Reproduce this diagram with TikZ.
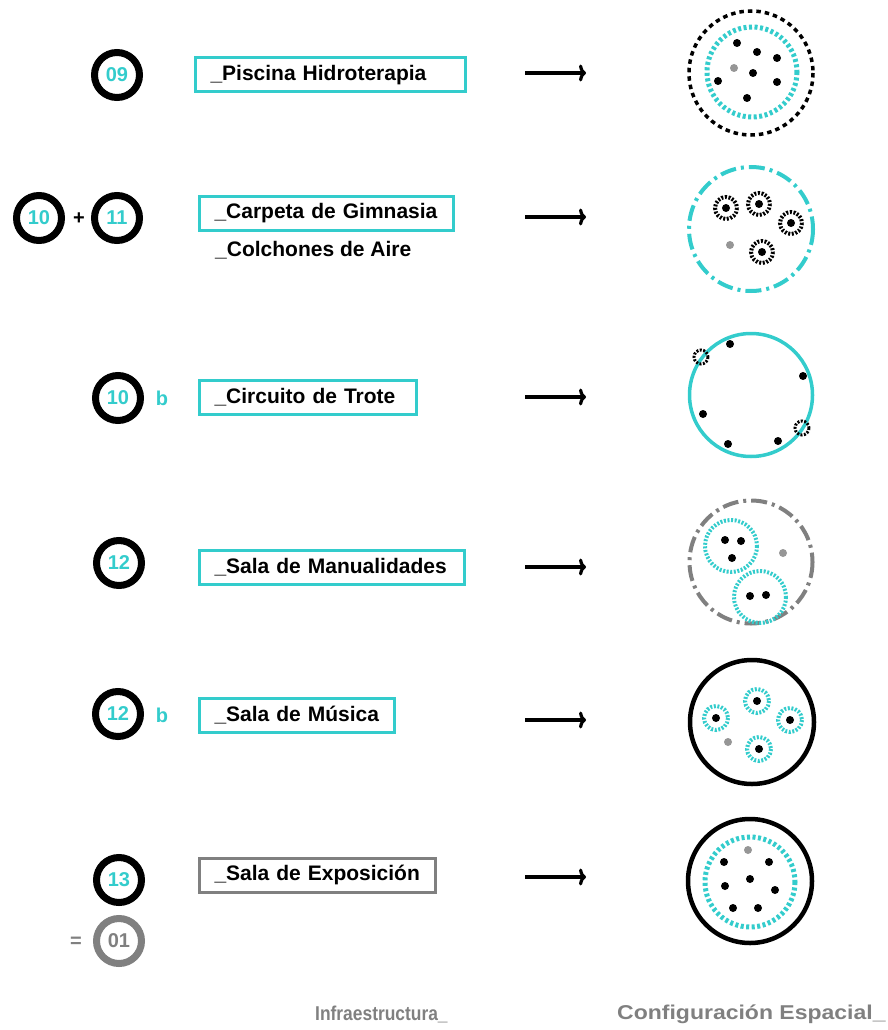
\documentclass[tikz,border=0pt]{standalone}
\usepackage{fontspec}
\setmainfont{Liberation Sans}
\usetikzlibrary{arrows.meta}
\definecolor{cy}{RGB}{51,204,204}
\definecolor{gr}{RGB}{128,128,128}
\definecolor{dotgr}{RGB}{150,150,150}
\begin{document}
\begin{tikzpicture}[x=1pt,y=-1pt,
  numring/.style={circle, draw=black, line width=7pt, minimum size=45pt, inner sep=0pt, text=cy, font=\bfseries\fontsize{20}{20}\selectfont},
  labbox/.style={draw=cy, line width=3pt, anchor=west, minimum height=34pt, inner xsep=15pt, inner ysep=0pt, font=\bfseries\fontsize{21}{24}\selectfont, align=left},
  plain/.style={anchor=west, inner sep=0pt, font=\bfseries\fontsize{21}{24}\selectfont},
  sym/.style={inner sep=0pt, font=\bfseries\fontsize{20}{20}\selectfont},
  arr/.style={line width=3.2pt, -{To[length=7pt,width=17pt]}},
  bigdash/.style={line width=3.5pt, dash pattern=on 4.5pt off 4pt},
  cydots/.style={draw=cy, line width=5pt, dash pattern=on 3pt off 2.5pt},
  smalldots/.style={line width=4pt, dash pattern=on 2pt off 1.6pt},
  dashdot/.style={line width=4pt, dash pattern=on 16pt off 5pt on 3pt off 5pt},
  bottomlab/.style={anchor=west, inner sep=0pt, text=gr, font=\bfseries\fontsize{20}{22}\selectfont}
]
\useasboundingbox (0,0) rectangle (888,1030);

% ---------- left column: numbers ----------
\node[numring] (n09) at (117,75) {09};
\node[numring] (n10) at (39,218) {10};
\node[sym] (plus) at (79,219) {+};
\node[numring] (n11) at (117,218) {11};
\node[numring] (n10b) at (118,398) {10};
\node[sym, text=cy] (b1) at (162,398) {b};
\node[numring] (n12) at (119,563) {12};
\node[numring] (n12b) at (118,714) {12};
\node[sym, text=cy] (b2) at (162,715) {b};
\node[numring] (n13) at (119,880) {13};
\node[numring, draw=gr, text=gr] (n01) at (119,941) {01};
\node[sym, text=gr] (eq) at (76,942) {=};

% ---------- middle column: labels ----------
\node[labbox, text width=240pt] (l1) at (194,75) {\mbox{\_Piscina Hidroterapia}};
\node[labbox, text width=224pt] (l2) at (198,213.5) {\mbox{\_Carpeta de Gimnasia}};
\node[plain] (l2b) at (215,250) {\_Colchones de Aire};
\node[labbox, text width=187pt] (l3) at (198,397) {\mbox{\_Circuito de Trote}};
\node[labbox, text width=235pt] (l4) at (198,567) {\mbox{\_Sala de Manualidades}};
\node[labbox, text width=165pt] (l5) at (198,715) {\mbox{\_Sala de Música}};
\node[labbox, draw=gr, text width=206pt] (l6) at (198,875) {\mbox{\_Sala de Exposición}};

% ---------- arrows ----------
\coordinate (a1s) at (525,73); \coordinate (a1e) at (586,73);
\coordinate (a2s) at (525,217); \coordinate (a2e) at (586,217);
\coordinate (a3s) at (525,397); \coordinate (a3e) at (586,397);
\coordinate (a4s) at (525,567); \coordinate (a4e) at (586,567);
\coordinate (a5s) at (525,720); \coordinate (a5e) at (586,720);
\coordinate (a6s) at (525,877); \coordinate (a6e) at (586,877);
\foreach \i in {1,...,6} \draw[arr] (a\i s) -- (a\i e);

% ---------- right column: spatial configurations ----------
% row 1
\draw[black, bigdash] (751,73) circle[radius=62];
\draw[cydots] (752,72) circle[radius=45];
\foreach \p in {(737,43),(757,52),(777,58),(753,73),(718,81),(777,82),(747,98)} \fill[black] \p circle[radius=4];
\fill[dotgr] (734,68) circle[radius=4];

% row 2
\draw[cy, dashdot] (751,229) circle[radius=62];
\foreach \p in {(726,208),(759,204),(791,223),(762,252)} {
  \draw[black, smalldots] \p circle[radius=11];
  \fill[black] \p circle[radius=4];
}
\fill[dotgr] (730,245) circle[radius=4];

% row 3
\draw[cy, line width=3.5pt] (751,395) circle[radius=61.5];
\foreach \p in {(730,344),(803,376),(703,414),(728,444),(778,441)} \fill[black] \p circle[radius=4];
\draw[black, line width=3pt, dash pattern=on 2pt off 1.5pt] (701,357) circle[radius=7];
\draw[black, line width=3pt, dash pattern=on 2pt off 1.5pt] (802,428) circle[radius=7];

% row 4
\draw[gr, dashdot] (751,562) circle[radius=61.5];
\draw[cy, smalldots] (731,546) circle[radius=26];
\draw[cy, smalldots] (760,597) circle[radius=26];
\foreach \p in {(725,540),(741,541),(732,558),(750,596),(766,595)} \fill[black] \p circle[radius=4];
\fill[dotgr] (783,553) circle[radius=4];

% row 5
\draw[black, line width=4.5pt] (752,722) circle[radius=62];
\foreach \p in {(757,701),(716,718),(790,720),(759,749)} {
  \draw[cy, smalldots] \p circle[radius=12];
  \fill[black] \p circle[radius=4];
}
\fill[dotgr] (728,742) circle[radius=4];

% row 6
\draw[black, line width=4.5pt] (750,881) circle[radius=62];
\draw[cydots] (750,882) circle[radius=45];
\foreach \p in {(724,862),(769,862),(750,879),(725,886),(775,890),(733,908),(758,908)} \fill[black] \p circle[radius=4];
\fill[dotgr] (748,850) circle[radius=4];

% ---------- column headings ----------
\node[bottomlab] (h1) at (315,1014) {\scalebox{0.87}[1]{Infraestructura\_}};
\node[bottomlab] (h2) at (617,1014) {\scalebox{1.15}[1]{Configuración Espacial\_}};
\end{tikzpicture}
\end{document}
